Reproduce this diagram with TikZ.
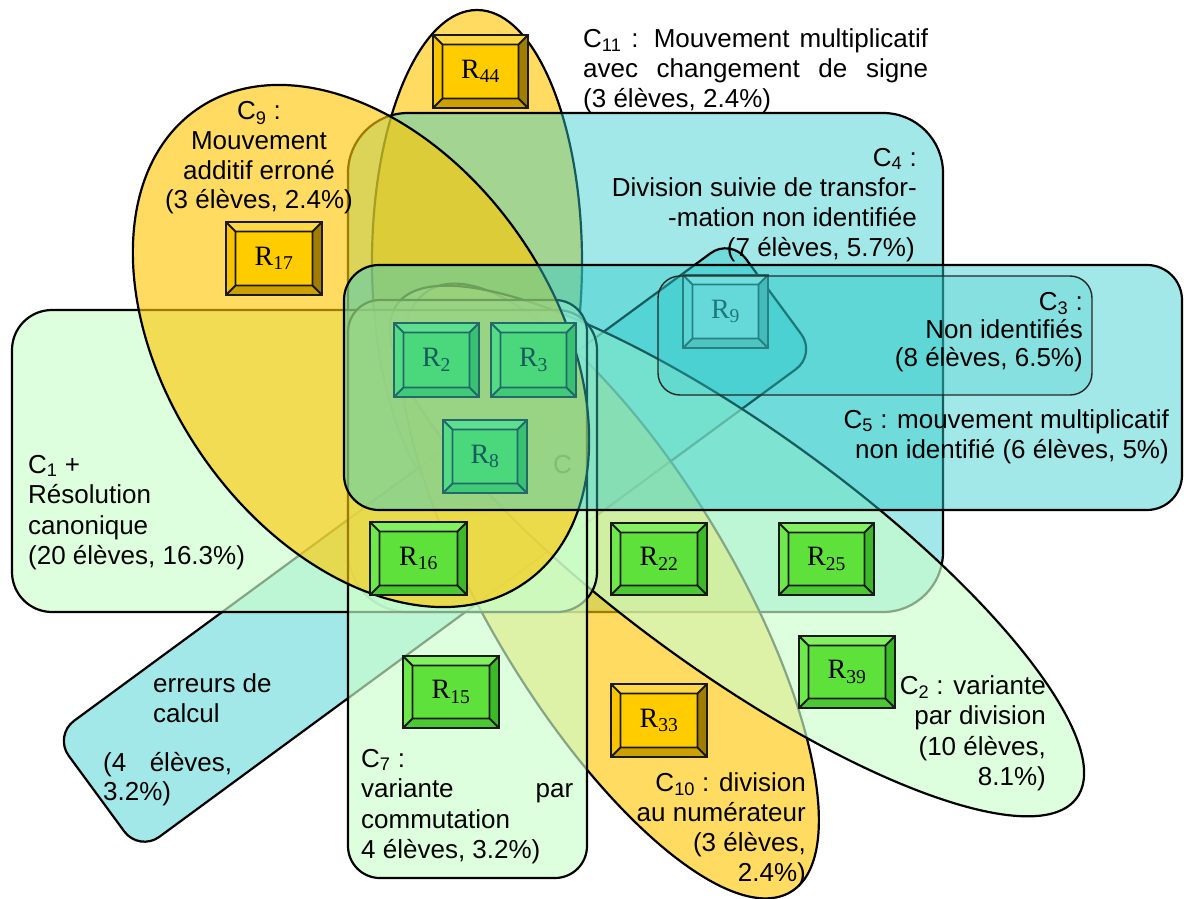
\documentclass[tikz,border=0pt]{standalone}
\usepackage{fontspec}
\setmainfont{Liberation Sans}
\newfontfamily\rmtimes{Liberation Serif}
\definecolor{tealA}{RGB}{51,204,204}
\definecolor{goldA}{RGB}{255,200,0}
\definecolor{mintA}{RGB}{204,255,204}
% green box scheme
\definecolor{gF}{RGB}{95,225,60}
\definecolor{gT}{RGB}{130,240,95}
\definecolor{gL}{RGB}{110,232,75}
\definecolor{gR}{RGB}{60,185,40}
\definecolor{gB}{RGB}{75,200,50}
% yellow box scheme
\definecolor{yF}{RGB}{255,204,0}
\definecolor{yT}{RGB}{255,216,70}
\definecolor{yL}{RGB}{248,196,0}
\definecolor{yR}{RGB}{160,125,0}
\definecolor{yB}{RGB}{204,160,0}
% cyan box scheme
\definecolor{cF}{RGB}{175,238,238}
\definecolor{cT}{RGB}{205,250,250}
\definecolor{cL}{RGB}{150,225,225}
\definecolor{cR}{RGB}{95,165,165}
\definecolor{cB}{RGB}{125,185,185}
\newcommand\Rbox[7]{%
 \begin{scope}[shift={(#2,#3)}]
  \def\bw{#4}\def\bh{#5}
  \fill[fill=#6T] (0,0) -- (\bw,0) -- ({\bw-9.5},9.5) -- (9.5,9.5) -- cycle;
  \fill[fill=#6L] (0,0) -- (9.5,9.5) -- (9.5,{\bh-9.5}) -- (0,\bh) -- cycle;
  \fill[fill=#6R] (\bw,0) -- (\bw,\bh) -- ({\bw-9.5},{\bh-9.5}) -- ({\bw-9.5},9.5) -- cycle;
  \fill[fill=#6B] (0,\bh) -- (\bw,\bh) -- ({\bw-9.5},{\bh-9.5}) -- (9.5,{\bh-9.5}) -- cycle;
  \fill[fill=#6F] (9.5,9.5) rectangle ({\bw-9.5},{\bh-9.5});
  \draw[boxline] (0,0) rectangle (\bw,\bh) (9.5,9.5) rectangle ({\bw-9.5},{\bh-9.5})
     (0,0) -- (9.5,9.5) (\bw,0) -- ({\bw-9.5},9.5) (0,\bh) -- (9.5,{\bh-9.5}) (\bw,\bh) -- ({\bw-9.5},{\bh-9.5});
  \node[rlabel] (#1) at ({\bw/2},{\bh/2}) {#7};
 \end{scope}}
\begin{document}
\begin{tikzpicture}[x=1pt,y=-1pt,
  tealset/.style={draw=black, line width=2.2pt, fill=tealA, fill opacity=0.45},
  goldset/.style={draw=black, line width=2.2pt, fill=goldA, fill opacity=0.62},
  mintset/.style={draw=black, line width=2.2pt, fill=mintA, fill opacity=0.65},
  thinset/.style={draw=black!85, line width=1.4pt, fill=tealA, fill opacity=0.25},
  boxline/.style={draw=black!90, line width=1.8pt},
  rlabel/.style={font=\rmtimes\fontsize{28}{30}\selectfont, inner sep=0pt},
  ctext/.style={font=\fontsize{26}{30}\selectfont, inner sep=0pt}]
\useasboundingbox (0,0) rectangle (1184,899);
\fill[white] (0,0) rectangle (1184,899);
% C11
\draw[goldset] (477,262) ellipse [x radius=105, y radius=252];
% C4
\draw[tealset, rounded corners=60pt] (348,113) rectangle (943,612);
% band : erreurs de calcul
\draw[tealset, rounded corners=25pt, shift={(435,545)}, rotate=36.3] (-420,-72) rectangle (420,72);
% C10
\draw[goldset, shift={(610,591)}, rotate=-59] (0,0) ellipse [x radius=351, y radius=122];
% C2
\draw[mintset, shift={(737,551)}, rotate=-36] (0,0) ellipse [x radius=420, y radius=120];
% C1
\draw[mintset, rounded corners=40pt] (12,310) rectangle (597,612);
% C7
\draw[mintset, rounded corners=32pt] (348,300) rectangle (587,878);
% C9
\draw[goldset, shift={(361,346)}, rotate=-55.3] (0,0) ellipse [x radius=288, y radius=193];
% boxes
\Rbox{R44}{433}{35}{95}{73}{y}{R\textsubscript{44}}
\Rbox{R17}{226}{222}{96}{73}{y}{R\textsubscript{17}}
\Rbox{R2}{394}{323}{85}{74}{g}{R\textsubscript{2}}
\Rbox{R3}{491}{323}{85}{74}{g}{R\textsubscript{3}}
\Rbox{R8}{443}{420}{84}{73}{g}{R\textsubscript{8}}
\Rbox{R9}{683}{275}{85}{73}{c}{R\textsubscript{9}}
\Rbox{R16}{370}{522}{97}{73}{g}{R\textsubscript{16}}
\Rbox{R22}{611}{523}{96}{72}{g}{R\textsubscript{22}}
\Rbox{R25}{779}{523}{95}{72}{g}{R\textsubscript{25}}
\Rbox{R15}{403}{656}{96}{72}{g}{R\textsubscript{15}}
\Rbox{R33}{611}{684}{96}{73}{y}{R\textsubscript{33}}
\Rbox{R39}{799}{636}{96}{72}{g}{R\textsubscript{39}}
% C5
\draw[tealset, rounded corners=35pt] (344,265) rectangle (1182,510);
% C3
\draw[thinset, rounded corners=22pt] (658,276) rectangle (1092,395);
% faint hidden label
\node[ctext, anchor=base west, text opacity=0.12] (hid) at (553,473) {C};
% texts
\node[ctext, anchor=base west] (c11a) at (583,48) {\makebox[345pt][s]{C\textsubscript{11} : Mouvement multiplicatif}};
\node[ctext, anchor=base west] (c11b) at (583,77.5) {\makebox[345pt][s]{avec changement de signe}};
\node[ctext, anchor=base west] (c11c) at (583,107) {(3 élèves, 2.4\%)};
\node[ctext, anchor=base] (c9a) at (259,120) {C\textsubscript{9} :};
\node[ctext, anchor=base] (c9b) at (259,149) {Mouvement};
\node[ctext, anchor=base] (c9c) at (259,179) {additif erroné};
\node[ctext, anchor=base] (c9d) at (259,208) {(3 élèves, 2.4\%)};
\node[ctext, anchor=base east] (c4a) at (917,166) {C\textsubscript{4} :};
\node[ctext, anchor=base east] (c4b) at (917,196.5) {Division suivie de transfor-};
\node[ctext, anchor=base east] (c4c) at (917,226.5) {-mation non identifiée};
\node[ctext, anchor=base east] (c4d) at (915,256) {(7 élèves, 5.7\%)};
\node[ctext, anchor=base east] (c3a) at (1083,310) {C\textsubscript{3} :};
\node[ctext, anchor=base east] (c3b) at (1083,338) {Non identifiés};
\node[ctext, anchor=base east] (c3c) at (1083,366) {(8 élèves, 6.5\%)};
\node[ctext, anchor=base east] (c5a) at (1169,428) {C\textsubscript{5} : mouvement multiplicatif};
\node[ctext, anchor=base east] (c5b) at (1169,458) {non identifié (6 élèves, 5\%)};
\node[ctext, anchor=base west] (c1a) at (28,473) {C\textsubscript{1} +};
\node[ctext, anchor=base west] (c1b) at (28,503.5) {Résolution};
\node[ctext, anchor=base west] (c1c) at (28,534) {canonique};
\node[ctext, anchor=base west] (c1d) at (28,564.5) {(20 élèves, 16.3\%)};
\node[ctext, anchor=base west] (bda) at (153,692) {erreurs de};
\node[ctext, anchor=base west] (bdb) at (153,722) {calcul};
\node[ctext, anchor=base west] (bdc) at (103,771) {\makebox[129pt][s]{(4 élèves,}};
\node[ctext, anchor=base west] (bdd) at (103,800) {3.2\%)};
\node[ctext, anchor=base west] (c7a) at (361,767) {C\textsubscript{7} :};
\node[ctext, anchor=base west] (c7b) at (361,797) {\makebox[212pt][s]{variante par}};
\node[ctext, anchor=base west] (c7c) at (361,828) {commutation};
\node[ctext, anchor=base west] (c7d) at (361,858) {4 élèves, 3.2\%)};
\node[ctext, anchor=base east] (c10a) at (806,791) {C\textsubscript{10} : division};
\node[ctext, anchor=base east] (c10b) at (806,821) {au numérateur};
\node[ctext, anchor=base east] (c10c) at (806,851) {(3 élèves,};
\node[ctext, anchor=base east] (c10d) at (806,881) {2.4\%)};
\node[ctext, anchor=base east] (c2a) at (1046,694) {C\textsubscript{2} : variante};
\node[ctext, anchor=base east] (c2b) at (1046,724) {par division};
\node[ctext, anchor=base east] (c2c) at (1046,755) {(10 élèves,};
\node[ctext, anchor=base east] (c2d) at (1046,785) {8.1\%)};
\end{tikzpicture}
\end{document}
